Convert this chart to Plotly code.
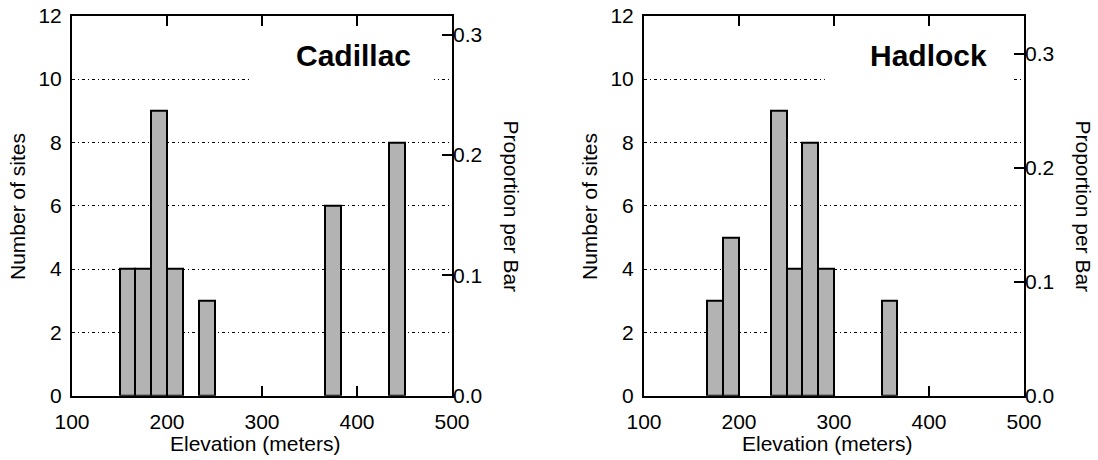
import plotly.graph_objects as go

# ---- data ----
bin_width = 50 / 3  # metres per bar
cad_bin_lo = [150, 166.67, 183.33, 200, 233.33, 366.67, 433.33]
cad_counts = [4, 4, 9, 4, 3, 6, 8]
had_bin_lo = [166.67, 183.33, 233.33, 250, 266.67, 283.33, 350]
had_counts = [3, 5, 9, 4, 8, 4, 3]
x_ticks = [100, 200, 300, 400, 500]
y_ticks = [0, 2, 4, 6, 8, 10, 12]
prop_ticks = [0.0, 0.1, 0.2, 0.3]
prop_labels = ["0.0", "0.1", "0.2", "0.3"]
panel_names = ["Cadillac", "Hadlock"]

FONT = "Liberation Sans, Arial, sans-serif"
BAR_FILL = "#b3b3b3"

fig = go.Figure()

fig.add_trace(go.Bar(x=cad_bin_lo, y=cad_counts, width=bin_width, offset=0,
                     marker=dict(color=BAR_FILL, line=dict(color="black", width=2)),
                     xaxis="x", yaxis="y", showlegend=False, hoverinfo="skip"))
fig.add_trace(go.Bar(x=had_bin_lo, y=had_counts, width=bin_width, offset=0,
                     marker=dict(color=BAR_FILL, line=dict(color="black", width=2)),
                     xaxis="x2", yaxis="y2", showlegend=False, hoverinfo="skip"))

W, H = 1098, 460
y_dom = [1 - 395.7 / H, 1 - 15.7 / H]
x_dom1 = [72 / W, 452 / W]
x_dom2 = [644 / W, 1024 / W]

tickfont = dict(family=FONT, size=21, color="black")

def xaxis_cfg(dom, anchor):
    return dict(domain=dom, anchor=anchor, range=[100, 500], tickvals=x_ticks,
                ticks="inside", ticklen=10, tickwidth=2, tickcolor="black",
                showline=True, linewidth=2, linecolor="black", mirror="ticks",
                showgrid=False, zeroline=False, tickfont=tickfont,
                automargin=False, ticklabelstandoff=6)

def yaxis_cfg(anchor):
    return dict(domain=y_dom, anchor=anchor, range=[0, 12], tickvals=y_ticks,
                ticks="", showline=True, linewidth=2, linecolor="black", mirror=True,
                showgrid=True, gridcolor="black", gridwidth=1,
                griddash="3px,3px,1px,3px", zeroline=False, tickfont=tickfont,
                automargin=False, ticklabelstandoff=4)

def propaxis_cfg(overlay, anchor, total):
    return dict(overlaying=overlay, anchor=anchor, side="right",
                range=[0, 12 / total], tickvals=prop_ticks, ticktext=prop_labels,
                ticks="inside", ticklen=10, tickwidth=2, tickcolor="black",
                showline=False, showgrid=False, zeroline=False, tickfont=tickfont,
                automargin=False)

# invisible traces to activate the proportion axes
fig.add_trace(go.Scatter(x=[None], y=[None], xaxis="x", yaxis="y3", showlegend=False))
fig.add_trace(go.Scatter(x=[None], y=[None], xaxis="x2", yaxis="y4", showlegend=False))

fig.update_layout(
    template="none",
    width=W, height=H,
    margin=dict(l=0, r=0, t=0, b=0, autoexpand=False),
    paper_bgcolor="white", plot_bgcolor="white",
    bargap=0,
    font=dict(family=FONT, color="black"),
    xaxis=xaxis_cfg(x_dom1, "y"),
    yaxis=yaxis_cfg("x"),
    xaxis2=xaxis_cfg(x_dom2, "y2"),
    yaxis2=yaxis_cfg("x2"),
    yaxis3=propaxis_cfg("y", "x", sum(cad_counts)),
    yaxis4=propaxis_cfg("y2", "x2", sum(had_counts)),
)

# white label backgrounds (hide the grid behind panel names)
for xr, yr, x0, x1 in [("x", "y", 0.47, 0.953), ("x2", "y2", 0.476, 0.971)]:
    fig.add_shape(type="rect", xref=f"{xr} domain", yref=f"{yr} domain",
                  x0=x0, x1=x1, y0=0.81, y1=0.967, fillcolor="white",
                  line=dict(width=0), layer="above")

title_font = dict(family=FONT, size=21, color="black")
for xr, yr, name, xc in [("x", "y", panel_names[0], 0.742), ("x2", "y2", panel_names[1], 0.749)]:
    fig.add_annotation(text=f"<b>{name}</b>", xref=f"{xr} domain", yref=f"{yr} domain",
                       x=xc, y=0.895, xanchor="center", yanchor="middle", showarrow=False,
                       font=dict(family=FONT, size=30, color="black"))

for off in [0, 572]:
    fig.add_annotation(text="Number of sites", xref="paper", yref="paper",
                       x=(18 + off) / W, y=1 - 207 / H, textangle=-90,
                       xanchor="center", yanchor="middle", showarrow=False,
                       font=title_font)
    fig.add_annotation(text="Proportion per Bar", xref="paper", yref="paper",
                       x=(511.5 + off) / W, y=1 - 206 / H, textangle=90,
                       xanchor="center", yanchor="middle", showarrow=False,
                       font=title_font)
    fig.add_annotation(text="Elevation (meters)", xref="paper", yref="paper",
                       x=(255 + off) / W, y=1 - 443 / H,
                       xanchor="center", yanchor="middle", showarrow=False,
                       font=title_font)

fig.write_html("out.html")
